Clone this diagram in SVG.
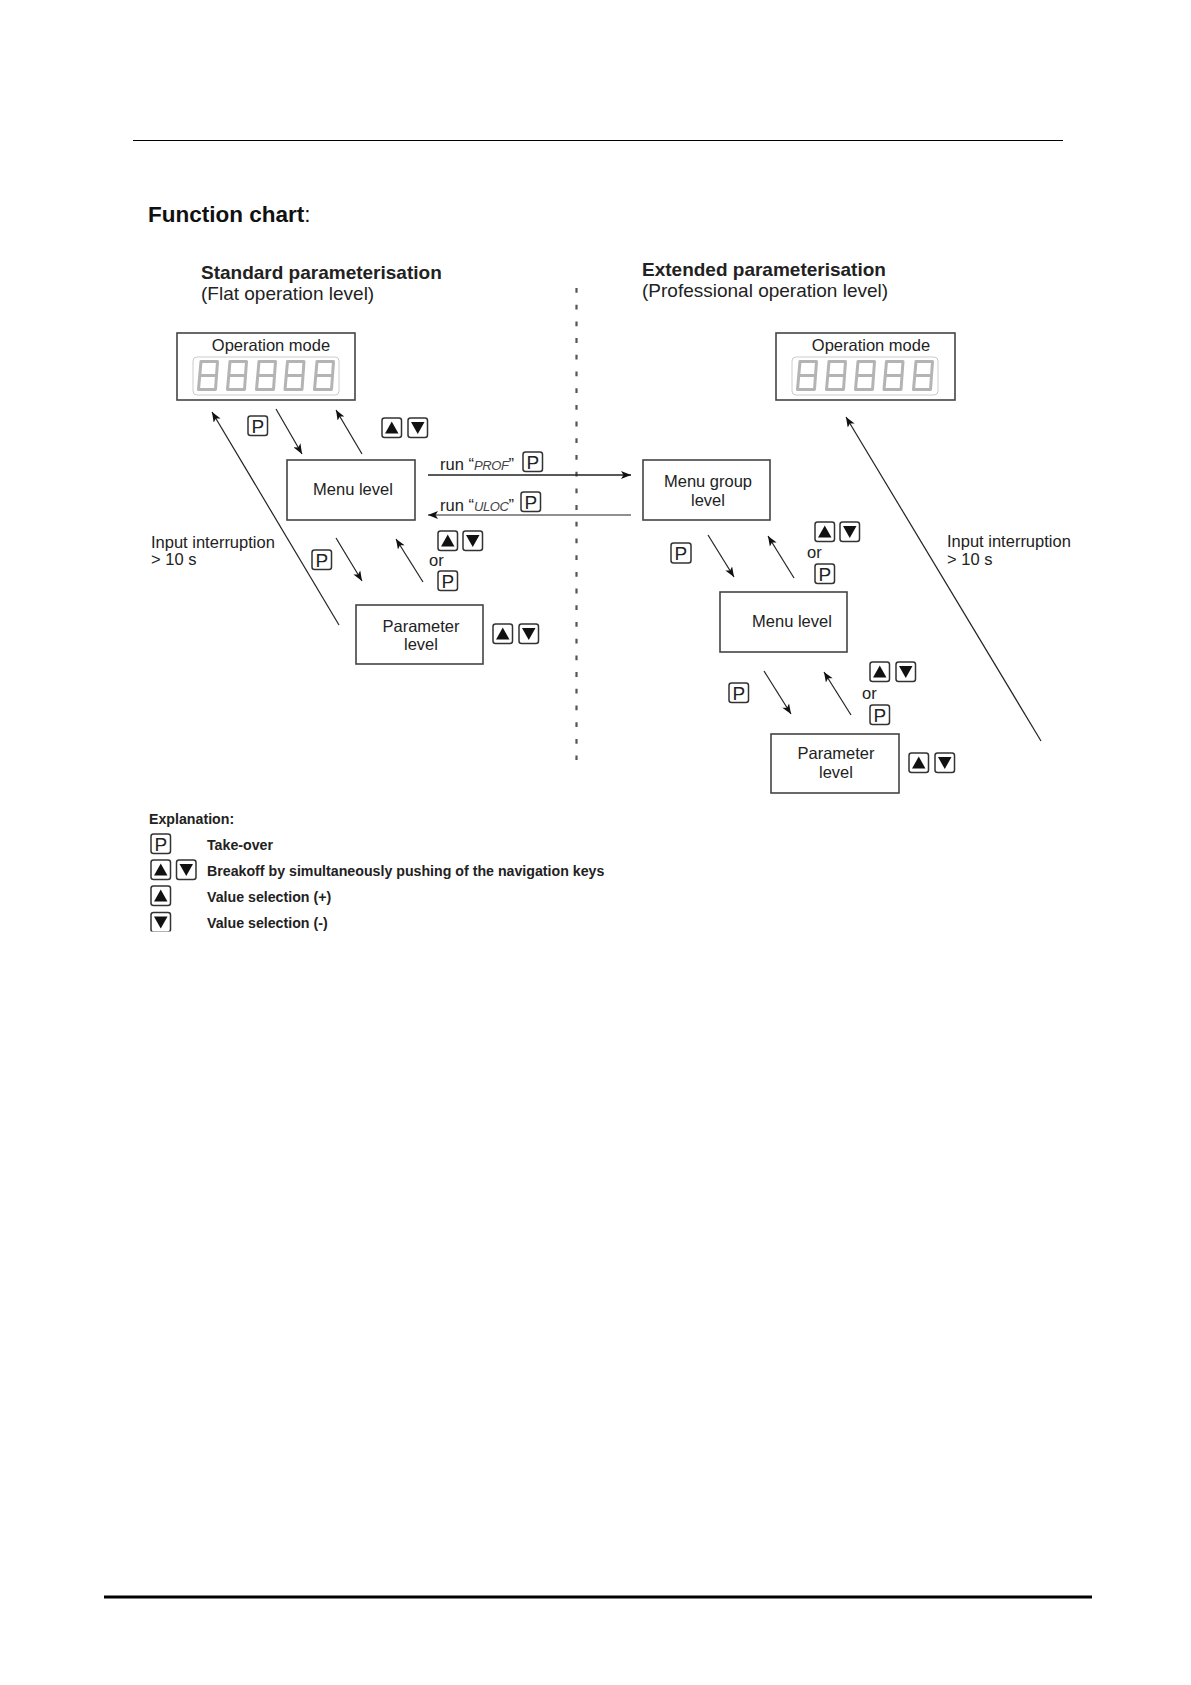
<svg xmlns="http://www.w3.org/2000/svg" width="1191" height="1685" viewBox="0 0 1191 1685">
<style>
text{font-family:"Liberation Sans",Arial,sans-serif;fill:#222}
.h1{font-size:22.5px;font-weight:bold;fill:#111}
.h2{font-size:19px;font-weight:bold}
.h3{font-size:19px}
.n{font-size:16.5px}
.c{text-anchor:middle}
.b{font-size:14.2px;font-weight:bold}
.box{fill:#fff;stroke:#444;stroke-width:1.6}
.key{fill:#fff;stroke:#333;stroke-width:1.5}
.tri{fill:#111}
.p{font-size:19px;text-anchor:middle}
.disp{fill:#fff;stroke:#ccc;stroke-width:1}
.seg{fill:none;stroke:#b4b4b4;stroke-width:3;stroke-linejoin:round}
.con{fill:none;stroke:#222;stroke-width:1.2}
.seven{font-family:"Liberation Sans Narrow","Liberation Sans",sans-serif;font-style:italic;font-size:13px;letter-spacing:-.4px;fill:#444}
</style>
<defs>
<marker id="ah" viewBox="0 0 10 8" refX="10" refY="4" markerUnits="userSpaceOnUse" markerWidth="10.500" markerHeight="8" orient="auto"><path d="M0,0L10,4L0,8L2.500,4z" fill="#111"/></marker>
<g id="up"><rect class="key" width="19.500" height="19.500" rx="2.500"/><path class="tri" d="M9.750,3.500L16.500,15.500H3z"/></g>
<g id="dn"><rect class="key" width="19.500" height="19.500" rx="2.500"/><path class="tri" d="M9.750,16L3,4H16.500z"/></g>
<g id="d"><path class="seg" d="M5,1.500H21.500L19.500,29.500H2.500ZM3.700,15.500H20.500"/></g>
<g id="display"><rect class="disp" x="193" y="357" width="146" height="38" rx="4"/><use href="#d" x="196" y="360"/><use href="#d" x="225" y="360"/><use href="#d" x="254" y="360"/><use href="#d" x="282.500" y="360"/><use href="#d" x="312" y="360"/></g>
<clipPath id="cut"><rect x="145" y="905" width="40" height="26.500"/></clipPath>
</defs>
<rect width="1191" height="1685" fill="#fff"/>
<line x1="133" y1="140.500" x2="1063" y2="140.500" stroke="#000" stroke-width="1"/>
<line x1="104" y1="1597" x2="1092" y2="1597" stroke="#000" stroke-width="3"/>
<text class="h1" x="148" y="222">Function chart<tspan font-weight="normal">:</tspan></text>
<text class="h2" x="201" y="279">Standard parameterisation</text>
<text class="h3" x="201" y="300">(Flat operation level)</text>
<text class="h2" x="642" y="276">Extended parameterisation</text>
<text class="h3" x="642" y="297">(Professional operation level)</text>
<line x1="576.500" y1="288" x2="576.500" y2="760" stroke="#555" stroke-width="2.200" stroke-dasharray="4.800 11.900"/>
<g id="connectors">
<path class="con" marker-end="url(#ah)" d="M339,625L212,412"/>
<path class="con" marker-end="url(#ah)" d="M276,409L302,454"/>
<path class="con" marker-end="url(#ah)" d="M362,454L336,410"/>
<path class="con" marker-end="url(#ah)" d="M336,538L362,581"/>
<path class="con" marker-end="url(#ah)" d="M423,582L396,539"/>
<path class="con" style="stroke-width:1.500" marker-end="url(#ah)" d="M428,475H631"/>
<path class="con" marker-end="url(#ah)" d="M631,515H428"/>
<path class="con" marker-end="url(#ah)" d="M1041,741L846,417"/>
<path class="con" marker-end="url(#ah)" d="M708,535L734,577"/>
<path class="con" marker-end="url(#ah)" d="M794,578L768,536"/>
<path class="con" marker-end="url(#ah)" d="M764,671L791,714"/>
<path class="con" marker-end="url(#ah)" d="M851,715L824,672"/>
</g>
<g id="op-left"><rect class="box" x="177" y="333" width="178" height="67"/><text class="n c" x="271" y="351">Operation mode</text><use href="#display"/></g>
<g id="op-right"><rect class="box" x="776" y="333" width="179" height="67"/><text class="n c" x="871" y="351">Operation mode</text><use href="#display" x="599"/></g>
<g id="menu-left"><rect class="box" x="287" y="460" width="128" height="60"/><text class="n c" x="353" y="495">Menu level</text></g>
<g id="param-left"><rect class="box" x="356" y="605" width="127" height="59"/><text class="n c" x="421" y="632">Parameter</text><text class="n c" x="421" y="650">level</text></g>
<g id="group-right"><rect class="box" x="643" y="460" width="127" height="60"/><text class="n c" x="708" y="487">Menu group</text><text class="n c" x="708" y="506">level</text></g>
<g id="menu-right"><rect class="box" x="720" y="592" width="127" height="60"/><text class="n c" x="792" y="627">Menu level</text></g>
<g id="param-right"><rect class="box" x="771" y="734" width="128" height="59"/><text class="n c" x="836" y="759">Parameter</text><text class="n c" x="836" y="778">level</text></g>
<g id="labels">
<text class="n" x="151" y="548">Input interruption</text><text class="n" x="151" y="565">&gt; 10 s</text>
<text class="n" x="947" y="547">Input interruption</text><text class="n" x="947" y="565">&gt; 10 s</text>
<text class="n" x="440" y="470">run “<tspan class="seven">PROF</tspan>”</text>
<text class="n" x="440" y="511">run “<tspan class="seven">ULOC</tspan>”</text>
<text class="n" x="429" y="566">or</text><text class="n" x="807" y="558">or</text><text class="n" x="862" y="699">or</text>
</g>
<g id="keys">
<g transform="translate(248,416)"><rect class="key" width="19.500" height="19.500" rx="2.500"/><text class="p" x="9.750" y="16.500">P</text></g>
<g transform="translate(523,452)"><rect class="key" width="19.500" height="19.500" rx="2.500"/><text class="p" x="9.750" y="16.500">P</text></g>
<g transform="translate(521,492)"><rect class="key" width="19.500" height="19.500" rx="2.500"/><text class="p" x="9.750" y="16.500">P</text></g>
<g transform="translate(438,571)"><rect class="key" width="19.500" height="19.500" rx="2.500"/><text class="p" x="9.750" y="16.500">P</text></g>
<g transform="translate(312,550)"><rect class="key" width="19.500" height="19.500" rx="2.500"/><text class="p" x="9.750" y="16.500">P</text></g>
<g transform="translate(815,564)"><rect class="key" width="19.500" height="19.500" rx="2.500"/><text class="p" x="9.750" y="16.500">P</text></g>
<g transform="translate(671,543)"><rect class="key" width="20" height="20" rx="2.500"/><text class="p" x="9.750" y="16.500">P</text></g>
<g transform="translate(729,683)"><rect class="key" width="19.500" height="19.500" rx="2.500"/><text class="p" x="9.750" y="16.500">P</text></g>
<g transform="translate(870,705)"><rect class="key" width="19.500" height="19.500" rx="2.500"/><text class="p" x="9.750" y="16.500">P</text></g>
<use href="#up" x="382" y="418"/><use href="#dn" x="408" y="418"/>
<use href="#up" x="438" y="531"/><use href="#dn" x="463" y="531"/>
<use href="#up" x="493" y="624"/><use href="#dn" x="519" y="624"/>
<use href="#up" x="815" y="522"/><use href="#dn" x="840" y="522"/>
<use href="#up" x="870" y="662"/><use href="#dn" x="896" y="662"/>
<use href="#up" x="909" y="753"/><use href="#dn" x="935" y="753"/>
</g>
<g id="legend">
<text class="b" x="149" y="824">Explanation:</text>
<g transform="translate(151,834)"><rect class="key" width="19.500" height="19.500" rx="2.500"/><text class="p" x="9.750" y="16.500">P</text></g>
<text class="b" x="207" y="850">Take-over</text>
<use href="#up" x="151" y="860"/><use href="#dn" x="176.500" y="860"/>
<text class="b" x="207" y="876">Breakoff by simultaneously pushing of the navigation keys</text>
<use href="#up" x="151" y="886"/>
<text class="b" x="207" y="902">Value selection (+)</text>
<g clip-path="url(#cut)"><use href="#dn" x="151" y="912.500"/></g>
<text class="b" x="207" y="928">Value selection (-)</text>
</g>
</svg>
